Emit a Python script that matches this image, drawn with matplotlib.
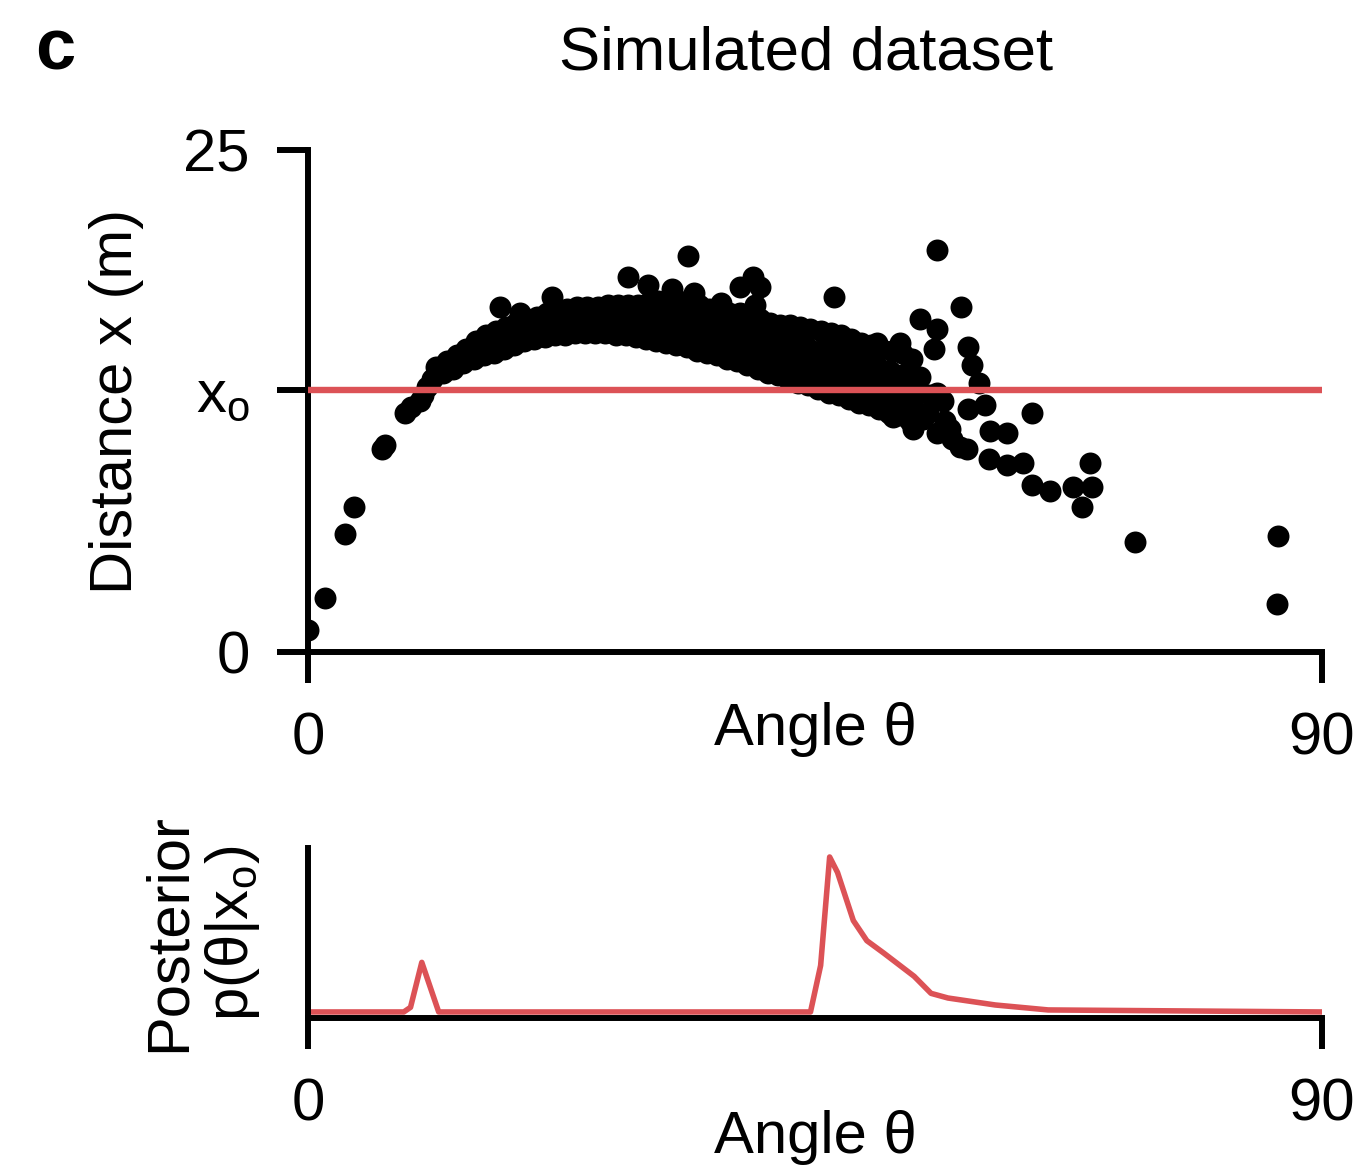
import numpy as np
import matplotlib.pyplot as plt

plt.rcParams['font.family'] = ['Liberation Sans', 'DejaVu Sans']
plt.rcParams['mathtext.fontset'] = 'custom'
plt.rcParams['mathtext.rm'] = 'Liberation Sans'

# observed distance
x_o = 13.05

# simulated (angle, distance) samples
rise_angle = [0.0, 1.5, 3.3, 4.1, 6.6, 6.8, 8.6, 9.1, 9.9, 10.2, 10.6]
rise_dist = [1.1, 2.7, 5.9, 7.2, 10.1, 10.3, 11.9, 12.2, 12.5, 12.8, 13.2]

band_angle = [
    11.0, 11.4,
    12.0, 12.3,
    12.9, 13.2,
    13.8, 14.0, 14.1,
    14.7, 14.9, 15.0,
    15.6, 15.8, 15.9,
    16.5, 16.7, 16.8,
    17.4, 17.6, 17.7,
    18.3, 18.5, 18.6,
    19.2, 19.4, 19.5,
    20.1, 20.3, 20.4,
    21.0, 21.2, 21.3,
    21.9, 22.1, 22.2,
    22.8, 23.0, 23.1,
    23.7, 23.9, 24.0,
    24.6, 24.8, 24.9,
    25.5, 25.7, 25.8,
    26.4, 26.6, 26.7,
    27.3, 27.5, 27.6,
    28.2, 28.4, 28.5,
    29.1, 29.3, 29.4,
    30.0, 30.2, 30.3,
    30.9, 31.1, 31.2, 31.0,
    31.8, 32.0, 32.1, 31.9,
    32.7, 32.9, 33.0, 32.8,
    33.6, 33.8, 33.9, 33.7,
    34.5, 34.7, 34.8, 34.6,
    35.4, 35.6, 35.7, 35.5,
    36.3, 36.5, 36.6, 36.4,
    37.2, 37.4, 37.5, 37.3,
    38.1, 38.3, 38.4, 38.2, 38.0,
    39.0, 39.2, 39.3, 39.1, 39.4,
    39.9, 40.1, 40.2, 40.0, 39.8,
    40.8, 41.0, 41.1, 40.9, 41.2,
    41.7, 41.9, 42.0, 41.8, 41.6,
    42.6, 42.8, 42.9, 42.7, 43.0,
    43.5, 43.7, 43.8, 43.6, 43.4,
    44.4, 44.6, 44.7, 44.5, 44.8,
    45.3, 45.5, 45.6, 45.4, 45.2,
    46.2, 46.4, 46.5, 46.3, 46.6,
    47.1, 47.3, 47.4, 47.2, 47.0,
    48.0, 48.2, 48.3, 48.1, 48.4,
    48.9, 49.1, 49.2, 49.0, 48.8,
    49.8, 50.0, 50.1, 49.9, 50.2,
    50.7, 50.9, 51.0, 50.8, 50.6,
    51.6, 51.8, 51.9, 51.7, 52.0,
    52.5, 52.7, 52.8, 52.6, 52.4,
    53.4, 53.6, 53.7, 53.5, 53.8,
]
band_dist = [
    13.6, 14.2,
    13.9, 14.5,
    14.1, 14.8,
    14.4, 15.1, 14.7,
    14.6, 15.5, 15.0,
    14.8, 15.8, 15.3,
    14.9, 16.0, 15.4,
    15.1, 16.2, 15.6,
    15.3, 16.4, 15.8,
    15.5, 16.6, 16.0,
    15.6, 16.7, 16.2,
    15.7, 16.9, 16.3,
    15.8, 17.1, 16.4,
    15.8, 17.1, 16.5,
    15.9, 17.2, 16.6,
    15.9, 17.2, 16.5,
    15.9, 17.2, 16.6,
    15.9, 17.3, 16.6,
    15.8, 17.3, 16.5,
    15.8, 17.3, 16.6,
    15.7, 17.3, 16.5,
    15.6, 17.4, 16.5,
    15.5, 17.5, 16.4, 16.9,
    15.4, 17.5, 16.3, 16.9,
    15.3, 17.5, 16.2, 16.8,
    15.2, 17.4, 16.1, 16.7,
    15.0, 17.3, 16.0, 16.6,
    14.9, 17.1, 15.8, 16.4,
    14.8, 17.0, 15.7, 16.3,
    14.6, 16.9, 15.5, 16.2,
    14.5, 16.9, 15.4, 16.1, 14.9,
    14.3, 16.8, 15.2, 16.0, 14.8,
    14.1, 16.6, 15.0, 15.8, 14.6,
    13.9, 16.4, 14.8, 15.6, 14.4,
    13.8, 16.3, 14.7, 15.5, 14.2,
    13.6, 16.3, 14.5, 15.4, 14.0,
    13.4, 16.2, 14.3, 15.2, 13.8,
    13.3, 16.1, 14.2, 15.1, 13.7,
    13.1, 16.0, 14.0, 15.0, 13.5,
    12.9, 15.9, 13.9, 14.9, 13.4,
    12.8, 15.8, 13.8, 14.8, 13.3,
    12.6, 15.6, 13.6, 14.6, 13.1,
    12.4, 15.4, 13.4, 14.4, 12.9,
    12.3, 15.3, 13.3, 14.3, 12.8,
    12.1, 15.1, 13.1, 14.1, 12.6,
    11.9, 15.0, 13.0, 14.0, 12.5,
    11.8, 14.9, 12.8, 13.8, 12.3,
    11.5, 14.6, 12.6, 13.6, 12.1,
]

tail_angle = [49.9, 50.5, 52.5, 53.4, 54.3, 55.8, 56.4, 51.9, 53.7, 55.8, 57.0,
              57.9, 56.5, 57.2, 55.0, 55.2, 54.6, 54.3, 55.8, 55.6, 58.6, 58.9,
              59.6, 60.1, 58.6, 64.3, 60.5, 62.0, 58.5, 60.4, 62.0, 63.5, 64.3,
              65.9, 69.4, 67.9, 69.6, 68.7, 73.4, 86.1, 86.0]
tail_dist = [13.9, 15.4, 15.4, 14.6, 13.7, 12.9, 12.5, 11.7, 11.1, 10.9, 11.1,
             10.2, 11.5, 10.6, 11.9, 12.8, 11.6, 16.6, 16.1, 15.1, 15.2, 14.3,
             13.4, 12.3, 12.1, 11.9, 11.0, 10.9, 10.1, 9.6, 9.3, 9.4, 8.3,
             8.0, 9.4, 8.2, 8.2, 7.2, 5.5, 5.8, 2.4]

outlier_angle = [17.0, 18.8, 21.7, 28.4, 30.2, 32.3, 33.7, 34.3, 36.7, 38.3,
                 39.5, 40.1, 39.7, 46.7, 55.8, 58.0]
outlier_dist = [17.2, 16.9, 17.7, 18.7, 18.3, 18.1, 19.7, 17.9, 17.4, 18.2,
                18.7, 18.2, 17.3, 17.7, 20.0, 17.2]

# posterior over angle (arbitrary units)
post_angle = [0, 8.5, 9.1, 10.1, 11.6, 44.6, 45.5, 46.3, 47.0, 48.4, 49.6,
              51.1, 53.8, 55.3, 56.8, 61.0, 65.7, 90]
post_value = [0, 0, 0.03, 0.32, 0, 0, 0.30, 1.0, 0.90, 0.59, 0.46,
              0.38, 0.23, 0.12, 0.09, 0.045, 0.013, 0]

red = '#dc5256'
fs = 43
lw = 4.3

angles = np.concatenate([rise_angle, band_angle, tail_angle, outlier_angle])
dists = np.concatenate([rise_dist, band_dist, tail_dist, outlier_dist])

fig = plt.figure(figsize=(13.62, 11.71), dpi=100)
W, H = 1362, 1171
ax = fig.add_axes([308 / W, 1 - 652 / H, 1014 / W, 502 / H])
ax2 = fig.add_axes([308 / W, 1 - 1018 / H, 1014 / W, 170 / H])

# top panel: simulations
ax.scatter(angles, dists, s=250, c='black', linewidths=0, zorder=1)
ax.axhline(x_o, color=red, lw=4.6, zorder=3)
ax.set_xlim(0, 90)
ax.set_ylim(0, 25)
ax.set_xticks([0, 90])
ax.set_xticklabels(['0', '90'])
ax.set_yticks([0, x_o, 25])
ax.set_yticklabels(['0', r'$\mathregular{x_o}$', '25'])
ax.set_xlabel('Angle θ', fontsize=fs)
ax.xaxis.set_label_coords(0.5, -0.10)
ax.set_ylabel('Distance x (m)', fontsize=fs)
ax.yaxis.set_label_coords(-0.162, 0.5)
ax.set_title('Simulated dataset', fontsize=44.5, pad=58, x=0.491)

# bottom panel: posterior
ax2.plot(post_angle, post_value, color=red, lw=4.0)
ax2.set_xlim(0, 90)
ax2.set_ylim(-0.039, 1.058)
ax2.set_xticks([0, 90])
ax2.set_xticklabels(['0', '90'])
ax2.set_yticks([])
ax2.set_xlabel('Angle θ', fontsize=fs)
ax2.xaxis.set_label_coords(0.5, -0.54)
ax2.set_ylabel('Posterior\np(θ|x$_\\mathregular{o}$)', fontsize=fs, linespacing=1.15)
ax2.yaxis.set_label_coords(-0.045, 0.5)

for a in (ax, ax2):
    for side in ('top', 'right'):
        a.spines[side].set_visible(False)
    for side in ('left', 'bottom'):
        a.spines[side].set_linewidth(lw)
    a.tick_params(width=lw, length=22, labelsize=fs)
    a.tick_params(axis='x', pad=21)
    a.tick_params(axis='y', pad=20)

fig.text(35 / W, 1 - 70 / H, 'c', fontsize=52, fontweight='bold', va='baseline')

fig.savefig('out.png', dpi=100)
